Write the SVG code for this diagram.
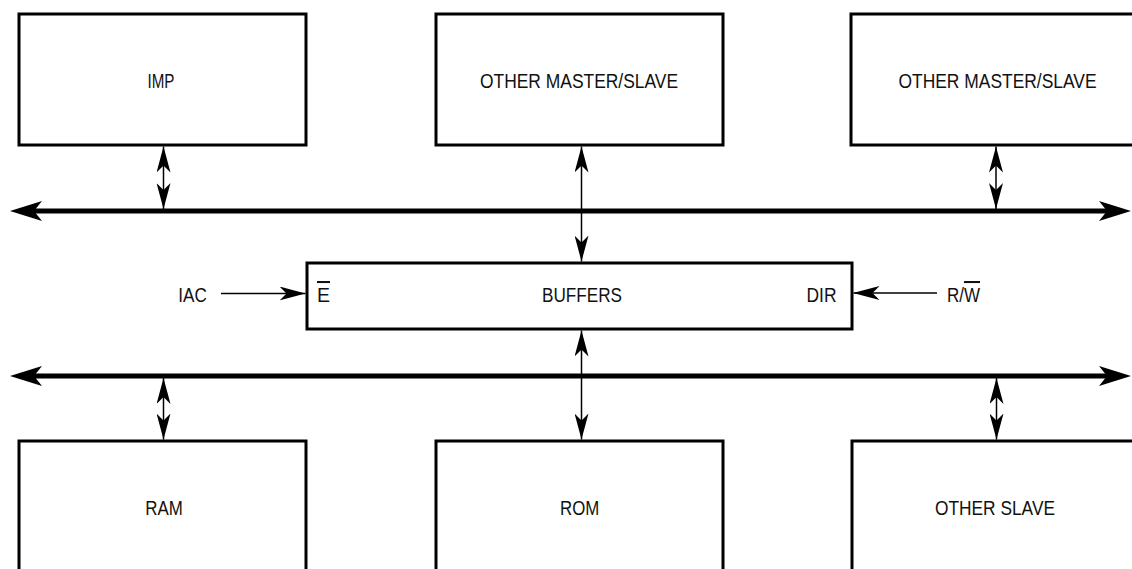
<svg xmlns="http://www.w3.org/2000/svg" width="1132" height="569" viewBox="0 0 1132 569">
<style>
.box{fill:#fff;stroke:#000;stroke-width:3}
.lbl{font-family:"Liberation Sans",Arial,sans-serif;font-size:20.5px;fill:#111;text-anchor:middle}
.wire{stroke:#000;stroke-width:1.5;fill:none;marker-start:url(#ah);marker-end:url(#ah)}
.wire1{stroke:#000;stroke-width:1.5;fill:none;marker-end:url(#ah)}
.bus{stroke:#000;stroke-width:5;fill:none;marker-start:url(#bh);marker-end:url(#bh)}
</style>
<defs>
<marker id="ah" viewBox="0 0 26 14" refX="26" refY="7" markerWidth="26" markerHeight="14" markerUnits="userSpaceOnUse" orient="auto-start-reverse">
<path d="M0,0 L26,7 L0,14 L7,7 Z" fill="#000"/>
</marker>
<marker id="bh" viewBox="0 0 32 20" refX="8" refY="10" markerWidth="32" markerHeight="20" markerUnits="userSpaceOnUse" orient="auto-start-reverse">
<path d="M0,0 L32,10 L0,20 L8,10 Z" fill="#000"/>
</marker>
</defs>
<rect width="1132" height="569" fill="#fff"/>

<g id="imp">
<rect class="box" x="19" y="14" width="287" height="131"/>
<text class="lbl" x="161" y="88" textLength="27" lengthAdjust="spacingAndGlyphs">IMP</text>
</g>
<g id="master-slave-1">
<rect class="box" x="436" y="14" width="287" height="131"/>
<text class="lbl" x="579" y="88" textLength="198" lengthAdjust="spacingAndGlyphs">OTHER MASTER/SLAVE</text>
</g>
<g id="master-slave-2">
<rect class="box" x="851" y="14" width="290" height="131"/>
<text class="lbl" x="997.5" y="88" textLength="198" lengthAdjust="spacingAndGlyphs">OTHER MASTER/SLAVE</text>
</g>
<g id="buffers">
<rect class="box" x="307" y="263" width="545" height="66"/>
<text class="lbl" x="582" y="302" textLength="80" lengthAdjust="spacingAndGlyphs">BUFFERS</text>
<text class="lbl" x="323.5" y="302" text-decoration="overline" textLength="13" lengthAdjust="spacingAndGlyphs">E</text>
<text class="lbl" x="821.5" y="302" textLength="30" lengthAdjust="spacingAndGlyphs">DIR</text>
</g>
<g id="iac">
<text class="lbl" x="192.5" y="302" textLength="28.5" lengthAdjust="spacingAndGlyphs">IAC</text>
</g>
<g id="rw">
<text class="lbl" x="963.5" y="302" textLength="33" lengthAdjust="spacingAndGlyphs">R/<tspan text-decoration="overline">W</tspan></text>
</g>
<g id="ram">
<rect class="box" x="19" y="441" width="287" height="140"/>
<text class="lbl" x="164" y="515" textLength="37.5" lengthAdjust="spacingAndGlyphs">RAM</text>
</g>
<g id="rom">
<rect class="box" x="436" y="441" width="287" height="140"/>
<text class="lbl" x="579.7" y="515" textLength="39.3" lengthAdjust="spacingAndGlyphs">ROM</text>
</g>
<g id="other-slave">
<rect class="box" x="852" y="441" width="290" height="140"/>
<text class="lbl" x="995" y="515" textLength="120" lengthAdjust="spacingAndGlyphs">OTHER SLAVE</text>
</g>

<g id="connectors">
<line class="bus" x1="34" y1="211" x2="1107" y2="211"/>
<line class="bus" x1="34" y1="376" x2="1107" y2="376"/>
<line class="wire" x1="163.5" y1="146.5" x2="163.5" y2="209"/>
<line class="wire" x1="581.5" y1="146.5" x2="581.5" y2="261.5"/>
<line class="wire" x1="996" y1="146.5" x2="996" y2="209"/>
<line class="wire" x1="163.5" y1="378" x2="163.5" y2="439.5"/>
<line class="wire" x1="581.5" y1="330.5" x2="581.5" y2="439.5"/>
<line class="wire" x1="996.5" y1="378" x2="996.5" y2="439.5"/>
<line class="wire1" x1="221" y1="293.5" x2="305.5" y2="293.5"/>
<line class="wire1" x1="937" y1="293" x2="853.5" y2="293"/>
</g>
</svg>
